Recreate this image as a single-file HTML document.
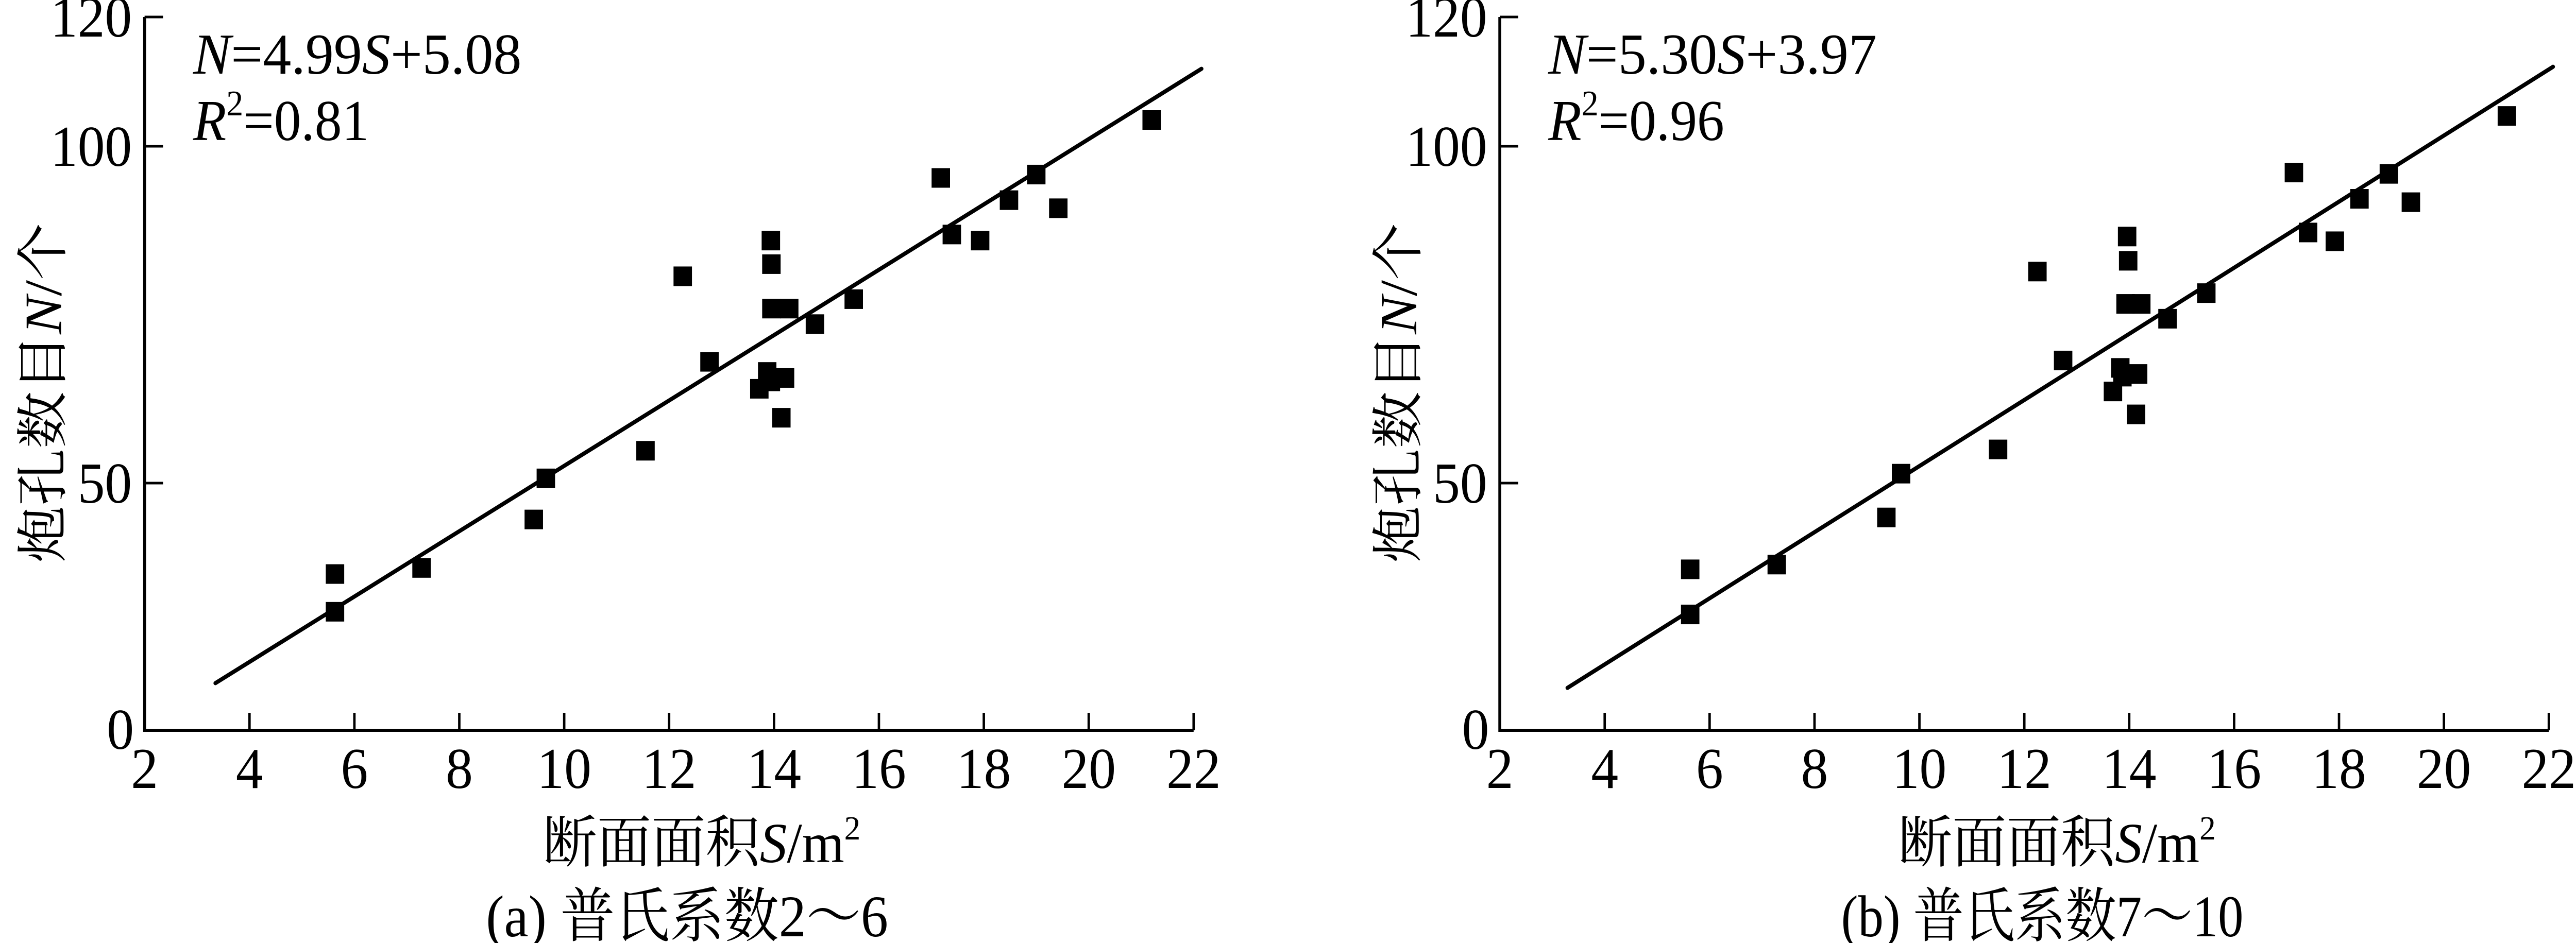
<!DOCTYPE html>
<html><head><meta charset="utf-8"><style>
html,body{margin:0;padding:0;background:#fff;width:100%;height:100%;overflow:hidden;}
svg{display:block;width:100vw;height:100vh;}
text{font-family:"Liberation Serif","Noto Serif CJK SC",serif;fill:#000;}
</style></head><body>
<svg id="chart" width="100%" height="100%" viewBox="0 0 5309 1831" preserveAspectRatio="none" xmlns="http://www.w3.org/2000/svg"></svg>
<script>
const xTicks = [2,4,6,8,10,12,14,16,18,20,22];
const yTicks = [50,100];
const aS = [5.63,5.63,7.28,9.42,9.65,11.55,12.26,12.77,13.72,13.87,13.94,14.14,14.21,13.95,14.29,13.95,13.94,14.78,15.52,17.18,17.39,17.93,18.48,19.00,19.42,21.20];
const aN = [36.5,30.9,37.4,44.6,50.7,54.8,80.7,68.0,64.0,66.5,65.1,59.7,65.6,75.9,75.9,82.5,86.0,73.6,77.3,95.3,86.9,86.0,92.0,95.8,90.8,103.9];
const bS = [5.63,5.63,7.28,9.37,9.65,11.50,12.25,12.74,13.69,13.83,13.87,14.13,14.17,13.93,14.23,13.98,13.96,14.73,15.47,17.14,17.41,17.92,18.39,18.95,19.37,21.20];
const bN = [37.2,30.5,37.9,44.9,51.4,55.0,81.4,68.2,63.6,67.1,65.8,60.2,66.2,76.6,76.6,83.0,86.6,74.4,78.2,96.1,87.2,85.9,92.2,95.9,91.7,104.5];
const aLineS = [3.35,22.15];
const aLineN = [20.3,111.5];
const bLineS = [3.29,22.08];
const bLineN = [19.6,111.8];

const NS="http://www.w3.org/2000/svg";
const svg=document.getElementById('chart');
function mk(tag,attrs,parent,txt){const e=document.createElementNS(NS,tag);for(const k in attrs)e.setAttribute(k,attrs[k]);if(txt!==undefined)e.textContent=txt;(parent||svg).appendChild(e);return e;}

function panel(id,x0,S,N,LS,LN,eq,r2,caption){
  const x1=x0+2162, yb=1418, yt=33;
  const xs=s=>x0+(s-2)*(x1-x0)/20;
  const ys=v=>938-(v-50)*13.08;
  const g=mk('g',{});
  
  
  const ax=mk('path',{d:`M${x0},${yt}V${yb}H${x1}`,stroke:'#000','stroke-width':6,fill:'none'},g);
  
  
  xTicks.forEach(t=>{
    const x=xs(t);
    const tk=mk('line',{x1:x,x2:x,y1:yb,y2:yb-34,stroke:'#000','stroke-width':5},g);
    
    
    const tl=mk('text',{x:x,y:1530,'font-size':112,'text-anchor':'middle'},g,String(t));
    
    
  });
  yTicks.forEach(t=>{
    const y=ys(t);
    const tk=mk('line',{x1:x0,x2:x0+38,y1:y,y2:y,stroke:'#000','stroke-width':5},g);
    
    
    const tl=mk('text',{x:x0-26,y:y+38,'font-size':112,'text-anchor':'end'},g,String(t));
    
    
  });
  const tt=mk('line',{x1:x0,x2:x0+38,y1:yt,y2:yt,stroke:'#000','stroke-width':5},g);
  
  
  const l120=mk('text',{x:x0-26,y:yt+38,'font-size':112,'text-anchor':'end'},g,'120');
  
  
  const l0=mk('text',{x:x0-50,y:yb+36,'font-size':112,'text-anchor':'middle'},g,'0');
  
  
  const ln=mk('line',{x1:xs(LS[0]),y1:ys(LN[0]),x2:xs(LS[1]),y2:ys(LN[1]),stroke:'#000','stroke-width':8,'stroke-linecap':'round'},g);
  
  
  S.forEach((s,i)=>{
    const r=mk('rect',{x:xs(s)-19,y:ys(N[i])-19,width:38,height:38,fill:'#000'},g);
    
    
  });
  const e1=mk('text',{x:x0+100,y:143,'font-size':112,textLength:677,lengthAdjust:'spacingAndGlyphs'},g);
  
  
  e1.innerHTML=`<tspan font-style="italic">N</tspan>=${eq[0]}<tspan font-style="italic">S</tspan>+${eq[1]}`;
  const e2=mk('text',{x:x0+100,y:272,'font-size':112},g);
  
  
  e2.innerHTML=`<tspan font-style="italic">R</tspan><tspan font-size="70" dy="-48">2</tspan><tspan dy="48">=${r2}</tspan>`;
  const cx=x0+1148;
  const xl=mk('text',{x:cx,y:1674,'font-size':110,'text-anchor':'middle',textLength:655,lengthAdjust:'spacingAndGlyphs'},g);
  
  
  xl.innerHTML='断面面积<tspan font-style="italic">S</tspan>/m<tspan font-size="66" dy="-44">2</tspan>';
  const cap=mk('text',{x:cx-30,y:1818,'font-size':115,'text-anchor':'middle',textLength:829,lengthAdjust:'spacingAndGlyphs'},g,caption);
  
  
  const yl=mk('text',{x:0,y:0,'font-size':108,'text-anchor':'middle',textLength:660,lengthAdjust:'spacingAndGlyphs',transform:`translate(${x0-210},763) rotate(-90) translate(0,38)`},g);
  
  
  yl.innerHTML='炮孔数目<tspan font-style="italic">N</tspan>/个';
}
panel('a',298,aS,aN,aLineS,aLineN,['4.99','5.08'],'0.81','(a) 普氏系数2～6');
panel('b',3091,bS,bN,bLineS,bLineN,['5.30','3.97'],'0.96','(b) 普氏系数7～10');
</script>
</body></html>
